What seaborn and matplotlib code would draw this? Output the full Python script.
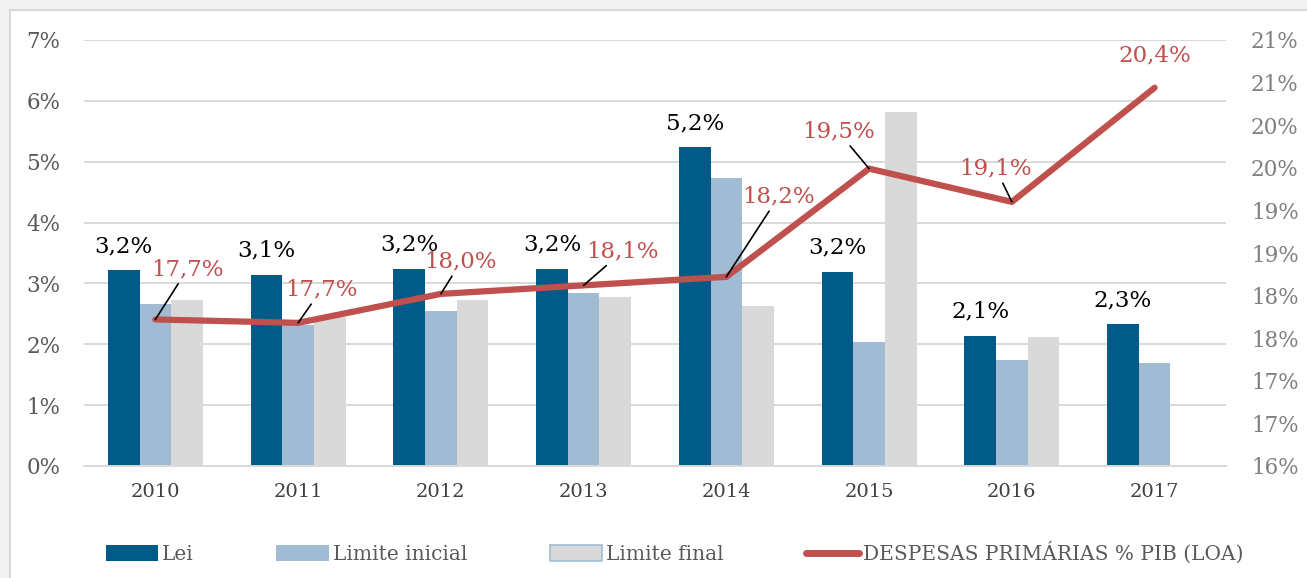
import numpy as np
import pandas as pd
import matplotlib

matplotlib.use('Agg')
import matplotlib.pyplot as plt
import seaborn as sns
from matplotlib.patches import Patch, Rectangle
from matplotlib.lines import Line2D
from matplotlib.ticker import FuncFormatter

# dados
anos = ['2010', '2011', '2012', '2013', '2014', '2015', '2016', '2017']
lei = [3.22, 3.14, 3.24, 3.24, 5.24, 3.19, 2.14, 2.33]
limite_inicial = [2.67, 2.31, 2.54, 2.85, 4.73, 2.03, 1.75, 1.69]
limite_final = [2.72, 2.45, 2.72, 2.78, 2.63, 5.81, 2.12, np.nan]
despesas = [17.72, 17.68, 18.02, 18.12, 18.22, 19.49, 19.10, 20.44]

series = ['Lei', 'Limite inicial', 'Limite final']
cores = ['#005b89', '#a1bbd4', '#d9d9d9']
vermelho = '#c0504d'

# deslocamento dos rotulos da linha (pixels)
desloc_rotulos = [(32, 50), (23, 33), (20, 32), (39, 34), (52, 80), (-31, 37), (-16, 33), (0, 32)]
com_guia = [True, True, True, True, True, True, True, False]

def pct_br(v):
    return f"{v:.1f}%".replace('.', ',')

df = pd.DataFrame({
    'ano': anos * 3,
    'serie': [s for s in series for _ in anos],
    'valor': lei + limite_inicial + limite_final,
})

sns.set_style("white")
plt.rcParams['font.family'] = ['DejaVu Serif']

fig = plt.figure(figsize=(13.07, 5.78), dpi=100, facecolor='#f2f2f2')
fig.patches.append(Rectangle((10 / 1307, -0.05), 1.1, 1 - 10 / 578 + 0.05,
                             transform=fig.transFigure, facecolor='white',
                             edgecolor='#d9d9d9', lw=1.5, zorder=-1))
ax = fig.add_axes([84 / 1307, 1 - 466 / 578, 1142 / 1307, 426 / 578])
ax.set_facecolor('none')

sns.barplot(data=df, x='ano', y='valor', hue='serie', palette=cores,
            width=0.666, gap=0, saturation=1, linewidth=0, legend=False, ax=ax)

ax.set_xlim(-0.5, 7.5)
ax.set_ylim(0, 7)
ax.set_yticks(range(8))
ax.yaxis.set_major_formatter(FuncFormatter(lambda v, p: f"{v:.0f}%"))
ax.yaxis.grid(True, color='#d9d9d9', lw=1.4)
ax.set_axisbelow(True)
ax.set_xlabel('')
ax.set_ylabel('')
for s in ['top', 'left', 'right']:
    ax.spines[s].set_visible(False)
ax.spines['bottom'].set_color('#d9d9d9')
ax.spines['bottom'].set_linewidth(1.4)
ax.tick_params(axis='y', length=0, pad=17, labelsize=15.5, labelcolor='#595959')
ax.tick_params(axis='x', length=0, pad=12, labelsize=14, labelcolor='#404040')

# rotulos da serie Lei
for bar, v in zip(ax.containers[0], lei):
    ax.annotate(pct_br(v), (bar.get_x() + bar.get_width() / 2, v),
                xytext=(0, 13), textcoords='offset pixels',
                ha='center', va='bottom', fontsize=16.5, color='black')

ax2 = ax.twinx()
sns.lineplot(x=np.arange(len(anos)), y=despesas, ax=ax2, color=vermelho,
             lw=4.5, solid_capstyle='round')
ax2.set_ylim(16, 21)
ax2.set_yticks(np.arange(16, 21.01, 0.5))
ax2.yaxis.set_major_formatter(FuncFormatter(lambda v, p: f"{int(np.floor(v + 0.5))}%"))
for s in ax2.spines.values():
    s.set_visible(False)
ax2.tick_params(axis='y', length=0, pad=18, labelsize=15.5, labelcolor='#7f7f7f')

for i, d in enumerate(despesas):
    seta = dict(arrowstyle='-', color='black', lw=1.2, shrinkA=0, shrinkB=0) if com_guia[i] else None
    ax2.annotate(pct_br(d), (i, d), xytext=desloc_rotulos[i], textcoords='offset pixels',
                 ha='center', va='center', fontsize=16.5, color=vermelho, arrowprops=seta)

handles = [
    Patch(facecolor=cores[0], edgecolor='none'),
    Patch(facecolor=cores[1], edgecolor='none'),
    Patch(facecolor=cores[2], edgecolor='#a1bbd4', lw=1.2),
    Line2D([0], [0], color=vermelho, lw=5, solid_capstyle='round'),
]
labels = series + ['DESPESAS PRIMÁRIAS % PIB (LOA)']
leg = fig.legend(handles, labels, loc='center', bbox_to_anchor=(0.516, 1 - 553 / 578),
                 ncol=4, frameon=False, fontsize=14.5, handlelength=2.6, handleheight=0.85,
                 handletextpad=0.2, columnspacing=4.1)
for t in leg.get_texts():
    t.set_color('#595959')

fig.savefig('out.png', dpi=100, facecolor=fig.get_facecolor())
